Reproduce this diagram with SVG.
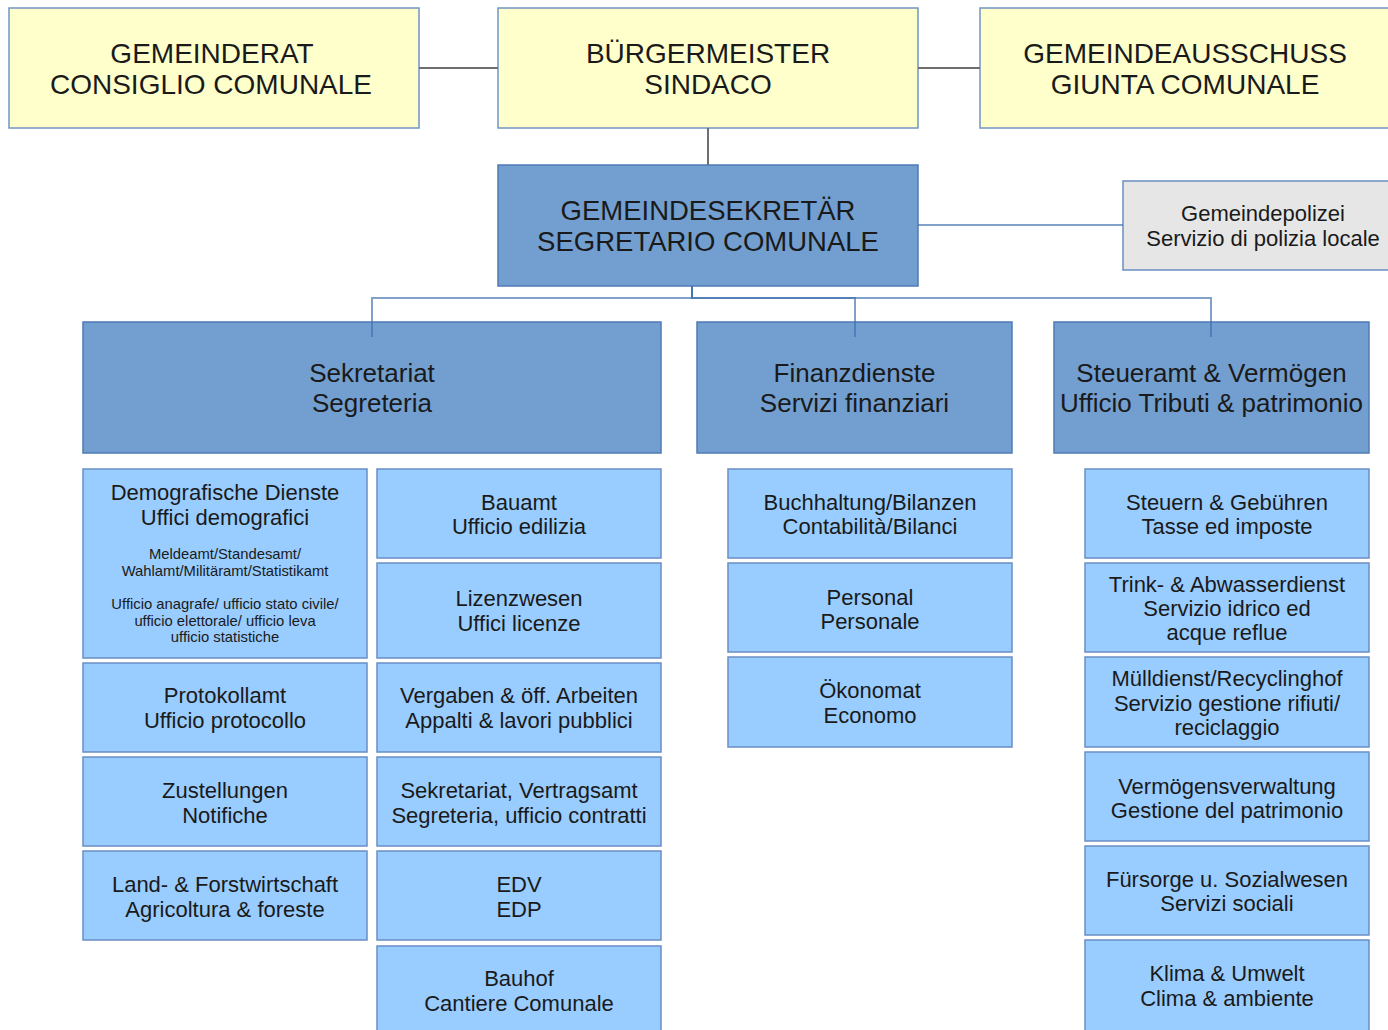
<svg xmlns="http://www.w3.org/2000/svg" width="1388" height="1030" viewBox="0 0 1388 1030">
<style>
  text { font-family: "Liberation Sans", Arial, sans-serif; fill: #1a1a1a; text-anchor: middle; }
  .top rect { fill: #ffffcc; stroke: #7095c6; stroke-width: 1.5; }
  .top text { font-size: 28px; }
  .sec rect { fill: #729fcf; stroke: #4f7bb5; stroke-width: 1.5; }
  .sec text { font-size: 27.5px; }
  .l2 rect { fill: #729fcf; stroke: #4f7bb5; stroke-width: 1.5; }
  .l2 text { font-size: 26px; }
  .pol rect { fill: #e6e6e6; stroke: #6b8fc2; stroke-width: 1.5; }
  .pol text { font-size: 22px; }
  .l3 rect { fill: #99ccff; stroke: #6a8ec4; stroke-width: 1.5; }
  .l3 text { font-size: 22px; }
  .l3 text.small { font-size: 14.8px; }
  .gray { stroke: #6e6e6e; stroke-width: 2; fill: none; }
  .blue { stroke: #3f6fae; stroke-opacity: 0.65; stroke-width: 2; fill: none; }
</style>

<!-- Top level -->
<g id="gemeinderat" class="top">
  <rect x="9" y="8" width="410" height="120"/>
  <text x="212" y="63">GEMEINDERAT</text>
  <text x="211" y="94">CONSIGLIO COMUNALE</text>
</g>
<g id="buergermeister" class="top">
  <rect x="498" y="8" width="420" height="120"/>
  <text x="708" y="63">BÜRGERMEISTER</text>
  <text x="708" y="94">SINDACO</text>
</g>
<g id="gemeindeausschuss" class="top">
  <rect x="980" y="8" width="412" height="120"/>
  <text x="1185" y="63">GEMEINDEAUSSCHUSS</text>
  <text x="1185" y="94">GIUNTA COMUNALE</text>
</g>

<g id="gemeindesekretaer" class="sec">
  <rect x="498" y="165" width="420" height="121"/>
  <text x="708" y="220">GEMEINDESEKRETÄR</text>
  <text x="708" y="251">SEGRETARIO COMUNALE</text>
</g>
<g id="gemeindepolizei" class="pol">
  <rect x="1123" y="181" width="280" height="89"/>
  <text x="1263" y="221">Gemeindepolizei</text>
  <text x="1263" y="246">Servizio di polizia locale</text>
</g>

<!-- Level 2 -->
<g id="sekretariat" class="l2">
  <rect x="83" y="322" width="578" height="131"/>
  <text x="372" y="382">Sekretariat</text>
  <text x="372" y="412">Segreteria</text>
</g>
<g id="finanzdienste" class="l2">
  <rect x="697" y="322" width="315" height="131"/>
  <text x="854.5" y="382">Finanzdienste</text>
  <text x="854.5" y="412">Servizi finanziari</text>
</g>
<g id="steueramt" class="l2">
  <rect x="1054" y="322" width="315" height="131"/>
  <text x="1211.5" y="382">Steueramt &amp; Vermögen</text>
  <text x="1211.5" y="412">Ufficio Tributi &amp; patrimonio</text>
</g>

<!-- Column 1 -->
<g id="demografische" class="l3">
  <rect x="83" y="469" width="284" height="189"/>
  <text x="225" y="500">Demografische Dienste</text>
  <text x="225" y="525">Uffici demografici</text>
  <text class="small" x="225" y="559">Meldeamt/Standesamt/</text>
  <text class="small" x="225" y="576">Wahlamt/Militäramt/Statistikamt</text>
  <text class="small" x="225" y="609">Ufficio anagrafe/ ufficio stato civile/</text>
  <text class="small" x="225" y="626">ufficio elettorale/ ufficio leva</text>
  <text class="small" x="225" y="642">ufficio statistiche</text>
</g>
<g id="protokollamt" class="l3">
  <rect x="83" y="663" width="284" height="89"/>
  <text x="225" y="703">Protokollamt</text>
  <text x="225" y="728">Ufficio protocollo</text>
</g>
<g id="zustellungen" class="l3">
  <rect x="83" y="757" width="284" height="89"/>
  <text x="225" y="798">Zustellungen</text>
  <text x="225" y="823">Notifiche</text>
</g>
<g id="landforst" class="l3">
  <rect x="83" y="851" width="284" height="89"/>
  <text x="225" y="892">Land- &amp; Forstwirtschaft</text>
  <text x="225" y="917">Agricoltura &amp; foreste</text>
</g>

<!-- Column 2 -->
<g id="bauamt" class="l3">
  <rect x="377" y="469" width="284" height="89"/>
  <text x="519" y="510">Bauamt</text>
  <text x="519" y="534">Ufficio edilizia</text>
</g>
<g id="lizenzwesen" class="l3">
  <rect x="377" y="563" width="284" height="95"/>
  <text x="519" y="606">Lizenzwesen</text>
  <text x="519" y="631">Uffici licenze</text>
</g>
<g id="vergaben" class="l3">
  <rect x="377" y="663" width="284" height="89"/>
  <text x="519" y="703">Vergaben &amp; öff. Arbeiten</text>
  <text x="519" y="728">Appalti &amp; lavori pubblici</text>
</g>
<g id="vertragsamt" class="l3">
  <rect x="377" y="757" width="284" height="89"/>
  <text x="519" y="798">Sekretariat, Vertragsamt</text>
  <text x="519" y="823">Segreteria, ufficio contratti</text>
</g>
<g id="edv" class="l3">
  <rect x="377" y="851" width="284" height="89"/>
  <text x="519" y="892">EDV</text>
  <text x="519" y="917">EDP</text>
</g>
<g id="bauhof" class="l3">
  <rect x="377" y="946" width="284" height="92"/>
  <text x="519" y="986">Bauhof</text>
  <text x="519" y="1011">Cantiere Comunale</text>
</g>

<!-- Column 3 -->
<g id="buchhaltung" class="l3">
  <rect x="728" y="469" width="284" height="89"/>
  <text x="870" y="510">Buchhaltung/Bilanzen</text>
  <text x="870" y="534">Contabilità/Bilanci</text>
</g>
<g id="personal" class="l3">
  <rect x="728" y="563" width="284" height="89"/>
  <text x="870" y="605">Personal</text>
  <text x="870" y="629">Personale</text>
</g>
<g id="oekonomat" class="l3">
  <rect x="728" y="657" width="284" height="90"/>
  <text x="870" y="698">Ökonomat</text>
  <text x="870" y="723">Economo</text>
</g>

<!-- Column 4 -->
<g id="steuern" class="l3">
  <rect x="1085" y="469" width="284" height="89"/>
  <text x="1227" y="510">Steuern &amp; Gebühren</text>
  <text x="1227" y="534">Tasse ed imposte</text>
</g>
<g id="trinkwasser" class="l3">
  <rect x="1085" y="563" width="284" height="89"/>
  <text x="1227" y="592">Trink- &amp; Abwasserdienst</text>
  <text x="1227" y="616">Servizio idrico ed</text>
  <text x="1227" y="640">acque reflue</text>
</g>
<g id="muelldienst" class="l3">
  <rect x="1085" y="657" width="284" height="90"/>
  <text x="1227" y="686">Mülldienst/Recyclinghof</text>
  <text x="1227" y="711">Servizio gestione rifiuti/</text>
  <text x="1227" y="735">reciclaggio</text>
</g>
<g id="vermoegen" class="l3">
  <rect x="1085" y="752" width="284" height="89"/>
  <text x="1227" y="794">Vermögensverwaltung</text>
  <text x="1227" y="818">Gestione del patrimonio</text>
</g>
<g id="fuersorge" class="l3">
  <rect x="1085" y="846" width="284" height="89"/>
  <text x="1227" y="887">Fürsorge u. Sozialwesen</text>
  <text x="1227" y="911">Servizi sociali</text>
</g>
<g id="klima" class="l3">
  <rect x="1085" y="940" width="284" height="92"/>
  <text x="1227" y="981">Klima &amp; Umwelt</text>
  <text x="1227" y="1006">Clima &amp; ambiente</text>
</g>

<!-- Connectors -->
<g id="connectors">
  <path class="gray" d="M419 68 H498"/>
  <path class="gray" d="M918 68 H980"/>
  <path class="gray" d="M708 128 V165"/>
  <path class="blue" d="M918 225 H1123"/>
  <path class="blue" d="M692 286 V298 H372 V337"/>
  <path class="blue" d="M692 286 V298 H855 V337"/>
  <path class="blue" d="M692 286 V298 H1211 V337"/>
</g>
</svg>
